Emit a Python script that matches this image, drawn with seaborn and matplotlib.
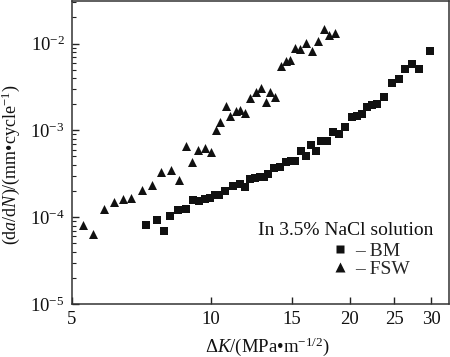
import numpy as np
import pandas as pd
import matplotlib
matplotlib.use('Agg')
import matplotlib.pyplot as plt
import seaborn as sns
from matplotlib.ticker import FixedLocator, NullLocator, FixedFormatter, LogLocator, NullFormatter
from matplotlib.lines import Line2D

# ---- data ----
bm_dk = [7.23, 7.64, 7.94, 8.15, 8.51, 8.83, 9.17, 9.45, 9.74, 9.97,
         10.23, 10.44, 10.74, 11.19, 11.56, 11.87, 12.14, 12.44, 12.76, 13.05,
         13.31, 13.68, 14.13, 14.56, 14.89, 15.23, 15.67, 16.05, 16.50, 16.91,
         17.36, 17.84, 18.44, 18.97, 19.57, 20.21, 20.75, 21.22, 21.77, 22.33,
         22.89, 23.68, 24.70, 25.51, 26.36, 27.26, 28.26, 29.85]
bm_rate = [8.07e-5, 9.29e-5, 6.89e-5, 1.04e-4, 1.20e-4, 1.24e-4, 1.58e-4, 1.53e-4, 1.61e-4, 1.66e-4,
           1.82e-4, 1.82e-4, 2.00e-4, 2.26e-4, 2.39e-4, 2.20e-4, 2.76e-4, 2.85e-4, 2.89e-4, 2.91e-4,
           3.15e-4, 3.69e-4, 3.79e-4, 4.33e-4, 4.42e-4, 4.38e-4, 5.79e-4, 5.00e-4, 6.78e-4, 5.75e-4,
           7.64e-4, 7.64e-4, 9.61e-4, 9.19e-4, 1.105e-3, 1.44e-3, 1.48e-3, 1.54e-3, 1.84e-3, 1.96e-3,
           2.03e-3, 2.40e-3, 3.52e-3, 3.93e-3, 5.10e-3, 5.80e-3, 5.10e-3, 8.10e-3]

fsw_dk = [5.30, 5.57, 5.88, 6.17, 6.45, 6.73, 7.10, 7.47, 7.82, 8.19,
          8.53, 8.84, 9.09, 9.40, 9.71, 10.00, 10.25, 10.49, 10.78, 11.03,
          11.32, 11.59, 11.87, 12.18, 12.52, 12.87, 13.16, 13.46, 13.80, 14.17,
          14.53, 14.85, 15.23, 15.61, 16.11, 16.55, 17.05, 17.57, 18.06, 18.62]
fsw_rate = [8.07e-5, 6.48e-5, 1.232e-4, 1.495e-4, 1.61e-4, 1.66e-4, 2.07e-4, 2.32e-4, 3.28e-4, 3.45e-4,
            2.65e-4, 6.57e-4, 4.30e-4, 5.99e-4, 6.30e-4, 5.63e-4, 1.00e-3, 1.245e-3, 1.93e-3, 1.46e-3,
            1.69e-3, 1.72e-3, 1.60e-3, 2.35e-3, 2.80e-3, 3.10e-3, 2.11e-3, 2.77e-3, 2.44e-3, 5.55e-3,
            6.28e-3, 6.45e-3, 9.0e-3, 8.62e-3, 1.027e-2, 8.10e-3, 1.074e-2, 1.463e-2, 1.248e-2, 1.316e-2]

x_ticks = [5, 10, 15, 20, 25, 30]
x_ticklabels = ['5', '10', '15', '20', '25', '30']
y_ticks = [1e-5, 1e-4, 1e-3, 1e-2]
y_ticklabels = [r'$10^{-5}$', r'$10^{-4}$', r'$10^{-3}$', r'$10^{-2}$']
legend_title = 'In 3.5% NaCl solution'
legend_labels = ['\u2013 BM', '\u2013 FSW']

# ---- style ----
sns.set_style('ticks')
plt.rcParams['font.family'] = ['Liberation Serif', 'DejaVu Serif']
plt.rcParams['mathtext.fontset'] = 'custom'
plt.rcParams['mathtext.rm'] = 'Liberation Serif'
plt.rcParams['mathtext.it'] = 'Liberation Serif:italic'
plt.rcParams['mathtext.bf'] = 'Liberation Serif:bold'

fig = plt.figure(figsize=(4.5, 3.57), dpi=100)
ax = fig.add_axes([0.1593, 0.1485, 0.8384, 0.8487])

df_bm = pd.DataFrame({'dK': bm_dk, 'rate': bm_rate})
df_fsw = pd.DataFrame({'dK': fsw_dk, 'rate': fsw_rate})
mk = '#111111'
sns.scatterplot(data=df_bm, x='dK', y='rate', marker='s', s=26, color=mk,
                linewidth=0, ax=ax, legend=False)
sns.scatterplot(data=df_fsw, x='dK', y='rate', marker='^', s=42, color=mk,
                linewidth=0, ax=ax, legend=False)

ax.set_xscale('log')
ax.set_yscale('log')
ax.set_xlim(5, 32.8)
ax.set_ylim(1e-5, 0.0309)

ax.xaxis.set_major_locator(FixedLocator(x_ticks))
ax.xaxis.set_major_formatter(FixedFormatter(x_ticklabels))
ax.xaxis.set_minor_locator(NullLocator())
ax.yaxis.set_major_locator(FixedLocator(y_ticks))
ax.yaxis.set_major_formatter(FixedFormatter(y_ticklabels))
ax.yaxis.set_minor_locator(LogLocator(base=10, subs=np.arange(2, 10), numticks=30))
ax.yaxis.set_minor_formatter(NullFormatter())

ax.tick_params(which='both', direction='in', top=False, right=False, color='#222222')
ax.tick_params(which='major', length=5, width=1, labelsize=13.5, pad=5, labelcolor='#111111')
ax.tick_params(which='minor', length=3, width=0.8)
for sp in ax.spines.values():
    sp.set_linewidth(1.1)
    sp.set_color('#333333')

ax.set_xlabel('\u0394$K$/(MPa\u2022m$^{-1/2}$)', fontsize=13.5, color='#111111')
ax.set_ylabel('(d$a$/d$N$)/(mm\u2022cycle$^{-1}$)', fontsize=13, color='#111111')
ax.xaxis.set_label_coords(0.518, -0.105)
ax.yaxis.set_label_coords(-0.133, 0.46)

ax.text(0.493, 0.2277, legend_title, transform=ax.transAxes, fontsize=14,
        ha='left', va='baseline', color='#111111')
handles = [Line2D([], [], marker='s', ls='none', color=mk, markersize=5.2, mec='none'),
           Line2D([], [], marker='^', ls='none', color=mk, markersize=7.2, mec='none')]
ax.legend(handles, legend_labels, loc='upper left', bbox_to_anchor=(0.690, 0.2026),
          frameon=False, fontsize=14, handlelength=0.8, handletextpad=0.4,
          labelspacing=0.0, borderpad=0, borderaxespad=0)

fig.savefig('out.png', dpi=100)
